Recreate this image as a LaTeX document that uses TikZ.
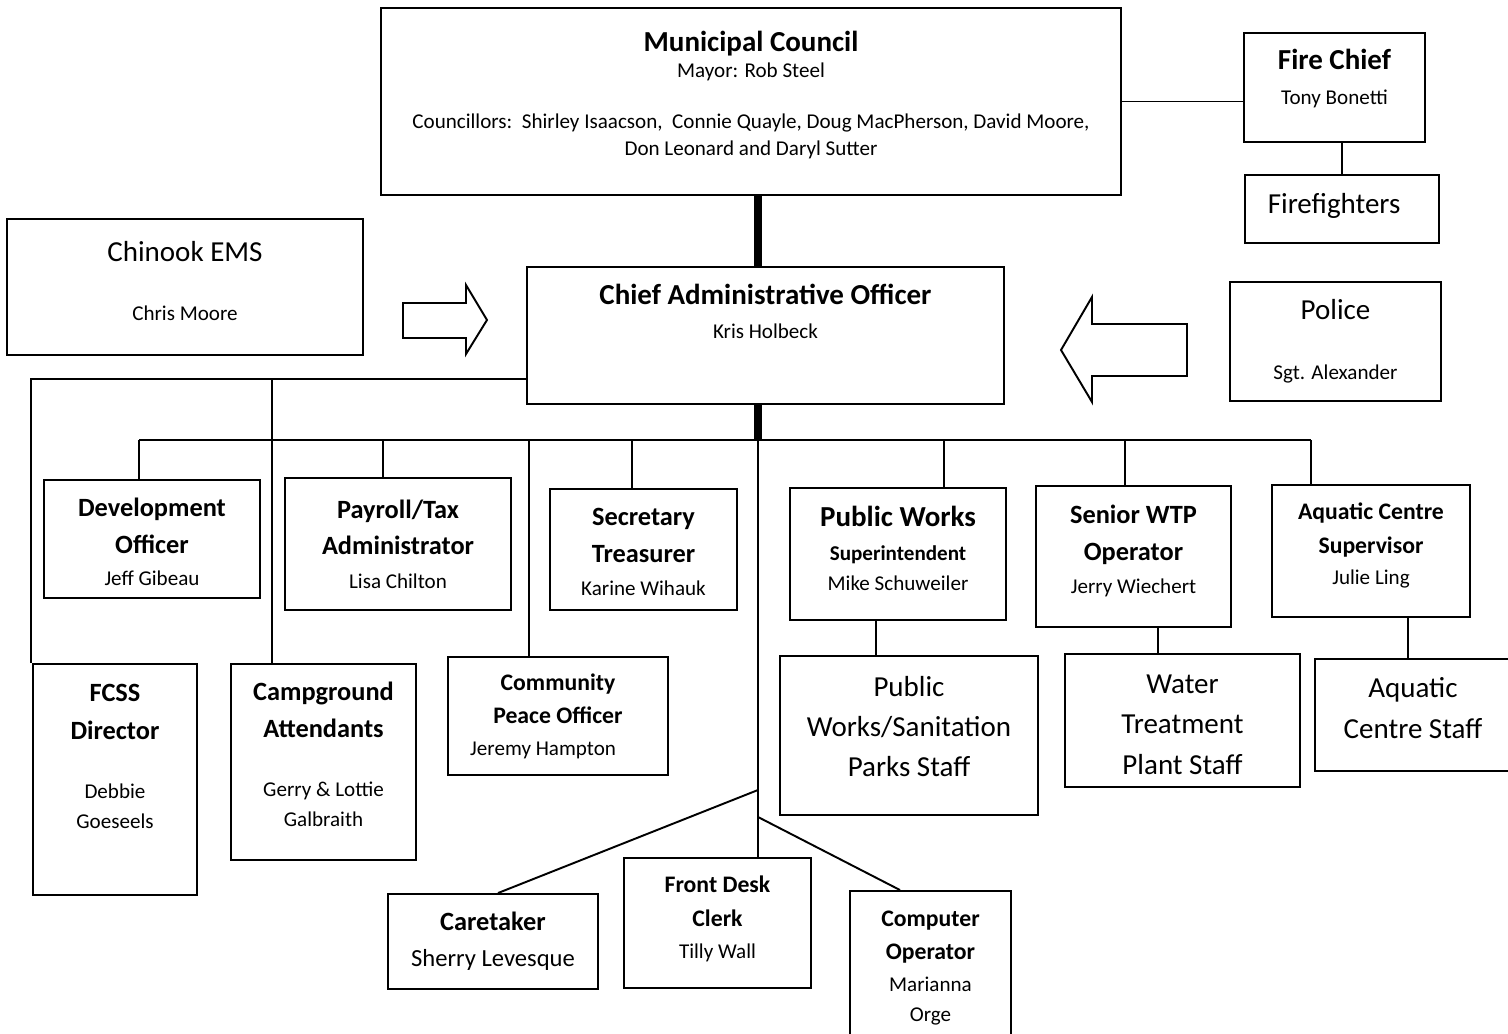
\documentclass[tikz,border=0pt]{standalone}
\usepackage{fontspec}
\setmainfont{Carlito}
\usetikzlibrary{calc}

\newcommand{\titleL}[1]{{\bfseries\fontsize{16.5}{18}\selectfont #1}}
\newcommand{\titleM}[1]{{\bfseries\fontsize{15}{18}\selectfont #1}}
\newcommand{\titleS}[1]{{\bfseries\fontsize{13.5}{16}\selectfont #1}}
\newcommand{\plainL}[1]{{\fontsize{16.5}{20}\selectfont #1}}
\newcommand{\lift}[2]{\raisebox{#1}[\height][\depth]{\begin{tabular}{@{}c@{}}#2\end{tabular}}}

\tikzset{
    box/.style={draw, line width=1.1pt, align=center, inner sep=0pt, font=\fontsize{12}{18}\selectfont},
    dims/.style 2 args={minimum width=#1*0.02cm, minimum height=#2*0.02cm},
    lead/.style={font=\fontsize{12}{#1}\selectfont},
    staff/.style={font=\fontsize{16.5}{23}\selectfont},
    conn/.style={line width=1.1pt},
    trunk/.style={line width=4pt}
}

\begin{document}
\begin{tikzpicture}[x=0.02cm, y=-0.02cm]
    \useasboundingbox (0,0) rectangle (1508,1034);

    % top
    \node[box, dims={740}{187}, lead=15] (council) at (751,101.5) {\lift{2.5pt}{\titleL{Municipal Council}\\Mayor: Rob Steel\\[14pt]Councillors:\ \ Shirley Isaacson,\ \ Connie Quayle, Doug MacPherson, David Moore,\\Don Leonard and Daryl Sutter}};
    \node[box, dims={181}{109}, lead=20] (firechief) at (1334.5,87.5) {\lift{4.3pt}{\titleL{Fire Chief}\\Tony Bonetti}};
    \node[box, dims={194}{68}] (firefighters) at (1342,209) {\lift{1pt}{\plainL{Firefighters}\rule{9pt}{0pt}}};
    \node[box, dims={356}{136}, lead=34] (ems) at (185,287) {\lift{4.5pt}{\plainL{Chinook EMS}\\Chris Moore}};
    \node[box, dims={477}{137}, lead=19.5] (cao) at (765.5,335.5) {\lift{12pt}{\titleL{Chief Administrative Officer}\\Kris Holbeck}};
    \node[box, dims={211}{119}, lead=34] (police) at (1335.5,341.5) {\plainL{Police}\\Sgt. Alexander};

    % first row
    \node[box, dims={216}{118}, lead=21] (devel) at (152,539) {\lift{-2.5pt}{\titleM{Development}\\\titleM{Officer}\\[-3pt]Jeff Gibeau}};
    \node[box, dims={226}{132}, lead=21] (payroll) at (398,544) {\titleM{Payroll/Tax}\\\titleM{Administrator}\\[-2pt]Lisa Chilton};
    \node[box, dims={187}{121}, lead=21] (secretary) at (643.5,549.5) {\lift{-2pt}{\titleM{Secretary}\\\titleM{Treasurer}\\[-2pt]Karine Wihauk}};
    \node[box, dims={216}{132}, lead=17] (pubworks) at (898,554) {\lift{0.8pt}{\titleL{Public Works}\\[2.5pt]{\bfseries Superintendent}\\Mike Schuweiler}};
    \node[box, dims={195}{141}, lead=21] (wtp) at (1133.5,556.5) {\lift{3pt}{\titleM{Senior WTP}\\\titleM{Operator}\\[-2pt]Jerry Wiechert}};
    \node[box, dims={198}{132}, lead=18] (aquasup) at (1371,551) {\lift{3pt}{\titleS{Aquatic Centre}\\[1.3pt]\titleS{Supervisor}\\Julie Ling}};

    % second row
    \node[box, dims={164}{231}, lead=17] (fcss) at (115,779.5) {\lift{11.5pt}{\titleM{FCSS}\\[4.6pt]\titleM{Director}\\[16.5pt]Debbie\\Goeseels}};
    \node[box, dims={185}{196}, lead=17] (campground) at (323.5,762) {\lift{2.5pt}{\titleM{Campground}\\[4pt]\titleM{Attendants}\\[16.5pt]Gerry \& Lottie\\Galbraith}};
    \node[box, dims={220}{118}, lead=18] (cpo) at (558,716) {\titleS{Community}\\[1pt]\titleS{Peace Officer}\\Jeremy Hampton\rule{17pt}{0pt}};
    \node[box, dims={258}{159}, staff] (pwstaff) at (909,735.5) {\lift{4pt}{Public\\Works/Sanitation\\Parks Staff}};
    \node[box, dims={235}{133}, staff] (wtpstaff) at (1182.5,720.5) {\lift{-3pt}{Water\\Treatment\\Plant Staff}};
    \node[box, dims={196}{112}, staff] (aquastaff) at (1413,715) {\lift{3pt}{Aquatic\\Centre Staff}};

    % third row
    \node[box, dims={210}{95}, font=\fontsize{14}{20.3}\selectfont] (caretaker) at (493,941.5) {\titleM{Caretaker}\\Sherry Levesque};
    \node[box, dims={187}{130}, lead=18] (frontdesk) at (717.5,923) {\lift{2.3pt}{\titleS{Front Desk}\\[1.3pt]\titleS{Clerk}\\Tilly Wall}};
    \node[box, dims={161}{154}, lead=18] (computer) at (930.5,968) {\titleS{Computer}\\[0.8pt]\titleS{Operator}\\Marianna\\[-1pt]Orge};

    % council and fire
    \draw[conn] (council.east) -- (council.east -| firechief.west);
    \draw[conn] (firechief.south -| firefighters.north) -- (firefighters.north);

    % main line
    \coordinate (hub) at (758,440);
    \draw[trunk] (council.south -| hub) -- (cao.north -| hub);
    \draw[trunk] (cao.south -| hub) -- (hub);
    \draw[conn] (hub -| 139,0) -- (hub -| 1311,0);
    \foreach \n/\x in {devel/139, payroll/383, cpo/529, secretary/632, pubworks/944, wtp/1125, aquasup/1311}
      \draw[conn] (hub -| \x,0) -- (\n.north -| \x,0);
    \draw[conn] (hub) -- (frontdesk.north -| hub);
    \coordinate (forkL) at (758,790);
    \coordinate (forkR) at (758,817);
    \draw[conn] (forkL) -- ([xshift=5*0.02cm]caretaker.north);
    \draw[conn] (forkR) -- (computer.north -| 900,0);

    % left side
    \draw[conn] (cao.west |- 0,379) -| (fcss.north -| 31,0);
    \draw[conn] (campground.north -| 272,0) -- (272,379);

    % staff
    \draw[conn] (pubworks.south -| 876,0) -- (pwstaff.north -| 876,0);
    \draw[conn] (wtp.south -| 1158,0) -- (wtpstaff.north -| 1158,0);
    \draw[conn] (aquasup.south -| 1408,0) -- (aquastaff.north -| 1408,0);

    % block arrows
    \draw[conn] (403,303) -- (466,303) -- (466,285) -- (487,320) -- (466,354) -- (466,338) -- (403,338) -- cycle;
    \draw[conn] (1187,324) -- (1092,324) -- (1092,297) -- (1061,350) -- (1092,402) -- (1092,376) -- (1187,376) -- cycle;
\end{tikzpicture}
\end{document}
